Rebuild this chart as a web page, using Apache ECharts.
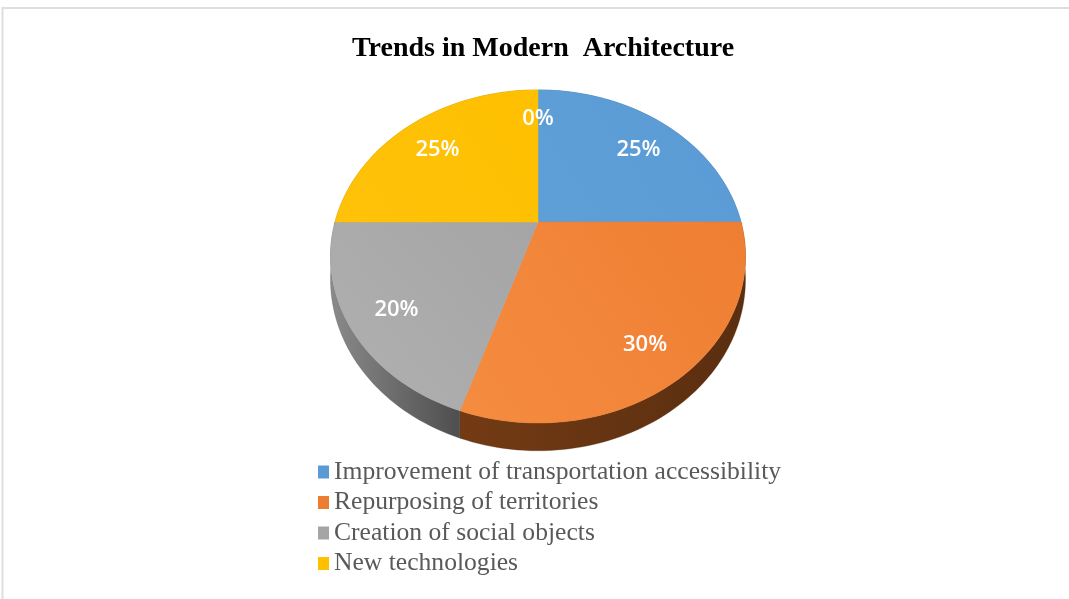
<!DOCTYPE html>
<html>
<head>
<meta charset="utf-8">
<script src="https://cdn.jsdelivr.net/npm/echarts@6/dist/echarts.min.js"></script>
<style>
  html, body { margin: 0; padding: 0; background: #ffffff; }
  #chart { width: 1069px; height: 599px; }
</style>
</head>
<body>
<div id="chart"></div>
<script>
// ---- data ----
const titleText = 'Trends in Modern  Architecture';
const categories = [
  'Improvement of transportation accessibility',
  'Repurposing of territories',
  'Creation of social objects',
  'New technologies',
  ''
];
const values = [25, 30, 20, 25, 0];

// ---- styles ----
const topColors = [
  ['#5B9BD5', '#5E9FD8'],
  ['#EE7E32', '#F58C40'],
  ['#A5A5A5', '#B0B0B0'],
  ['#FFC000', '#FFC20A'],
  ['#4472C4', '#4472C4']
];
const wallColors = [
  ['#3A6E9E', '#2F5B84'],
  ['#733B14', '#5A2E10'],
  ['#8A8A8A', '#4E4E4E'],
  ['#B38600', '#8F6B00'],
  ['#2F528F', '#2F528F']
];
const legendColors = ['#5B9BD5', '#ED7D31', '#A5A5A5', '#FFC000', '#4472C4'];

// ---- geometry of the tilted pie (layout) ----
const CX = 538, CY = 222;     // centre of top face
const RA = 203, RB = 159.4;   // horizontal / vertical scale
const PERSP = 0.207;          // perspective strength
const DEPTH = 22;             // thickness
const LABEL_F = 0.78;         // label radius fraction
const LABEL_DY = 7;           // label vertical nudge

const total = values.reduce((a, b) => a + b, 0);
const cum = [];
values.reduce((acc, v, i) => { cum[i] = acc; return acc + v; }, 0);

function proj(theta, f, drop) {
  const X = f * Math.sin(theta);
  const D = f * Math.cos(theta);
  const k = 1 / (1 + PERSP * D);
  return [CX + RA * X * k, CY - RB * D * k + drop * k];
}

function renderSlice(params, api) {
  const idx = api.value(0);
  const v = api.value(1);
  const start = cum[idx] / total * Math.PI * 2;
  const end = (cum[idx] + v) / total * Math.PI * 2;
  const children = [];
  if (v > 0) {
    const n = Math.max(4, Math.ceil((end - start) / (Math.PI / 120)));
    const topPts = [], botPts = [];
    for (let j = 0; j <= n; j++) {
      const t = start + (end - start) * j / n;
      topPts.push(proj(t, 1, 0));
      botPts.push(proj(t, 1, DEPTH));
    }
    const wall = topPts.concat(botPts.slice().reverse());
    children.push({
      type: 'polygon', z2: 1,
      shape: { points: wall },
      style: {
        fill: new echarts.graphic.LinearGradient(0, 0, 1, 0, [
          { offset: 0, color: wallColors[idx][0] },
          { offset: 1, color: wallColors[idx][1] }
        ]),
        stroke: wallColors[idx][1], lineWidth: 0.3
      }
    });
    children.push({
      type: 'polygon', z2: 10,
      shape: { points: [proj(0, 0, 0)].concat(topPts) },
      style: {
        fill: new echarts.graphic.LinearGradient(1, 0, 0, 1, [
          { offset: 0, color: topColors[idx][0] },
          { offset: 1, color: topColors[idx][1] }
        ]),
        stroke: topColors[idx][0], lineWidth: 0.5
      }
    });
  }
  const mid = (start + end) / 2;
  const lp = proj(mid, v > 0 ? LABEL_F : 0.76, 0);
  children.push({
    type: 'text', z2: 30,
    x: lp[0], y: lp[1] + (v > 0 ? LABEL_DY : 1),
    style: {
      text: Math.round(v / total * 100) + '%',
      fill: '#ffffff',
      font: '600 22px "Open Sans"',
      align: 'center',
      verticalAlign: 'middle'
    }
  });
  return { type: 'group', children: children };
}

const chart = echarts.init(document.getElementById('chart'), null, { renderer: 'canvas' });
chart.setOption({
  backgroundColor: '#ffffff',
  animation: false,
  title: {
    text: titleText,
    left: 538,
    textAlign: 'center',
    top: 30,
    textStyle: {
      fontFamily: '"Liberation Serif", "Times New Roman", serif',
      fontWeight: 'bold',
      fontSize: 28,
      color: '#000000'
    }
  },
  legend: {
    orient: 'vertical',
    left: 318,
    top: 459,
    padding: 0,
    itemWidth: 11,
    itemHeight: 13,
    itemGap: 4.5,
    icon: 'rect',
    selectedMode: false,
    data: categories.filter(c => c !== ''),
    textStyle: {
      fontFamily: '"Liberation Serif", "Times New Roman", serif',
      fontSize: 25.6,
      lineHeight: 25,
      color: '#595959'
    }
  },
  graphic: [{
    type: 'rect',
    silent: true,
    shape: { x: 2.5, y: 8, width: 1200, height: 800 },
    style: { fill: null, stroke: '#dedede', lineWidth: 2 }
  }],
  series: values.map((v, i) => ({
    type: 'custom',
    name: categories[i] === '' ? 'zero' : categories[i],
    coordinateSystem: 'none',
    silent: true,
    itemStyle: { color: legendColors[i] },
    data: [[i, v]],
    renderItem: renderSlice
  }))
});
</script>
</body>
</html>
